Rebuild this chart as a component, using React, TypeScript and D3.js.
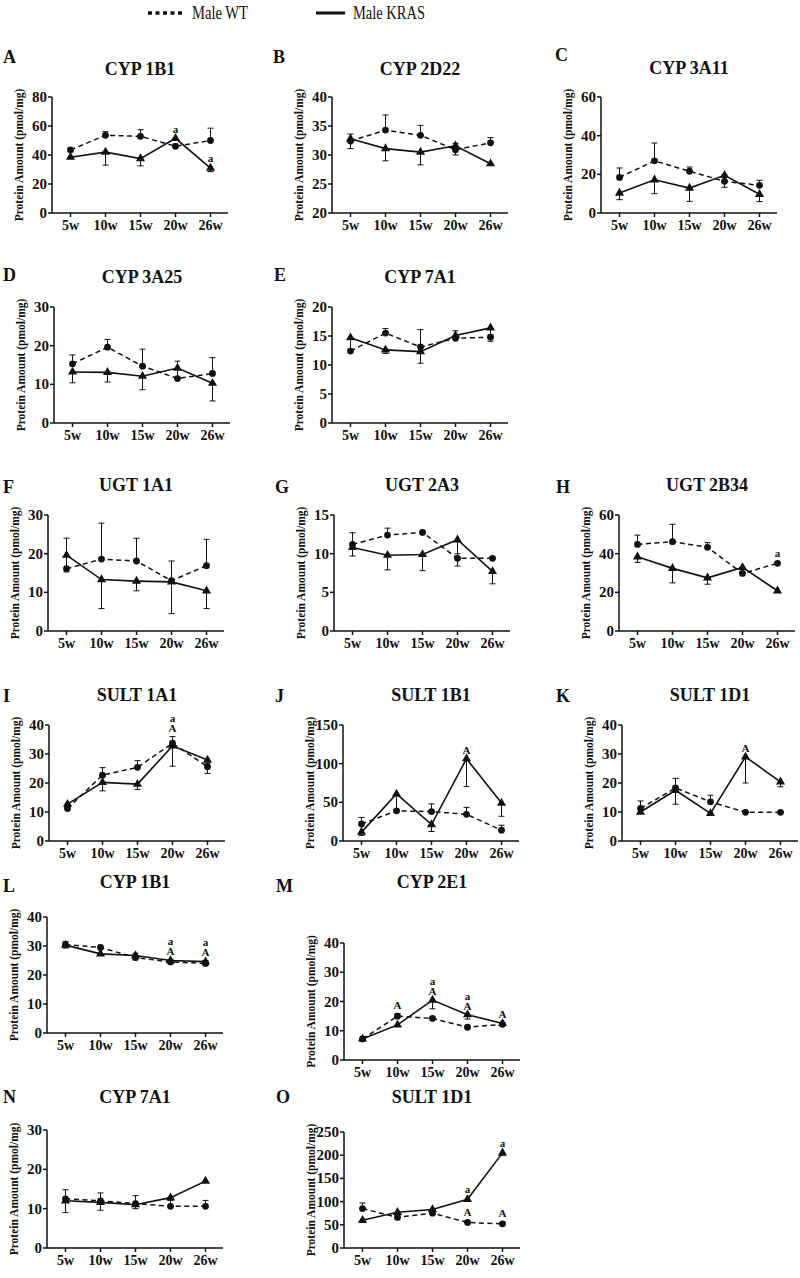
import React from "react";
import * as d3 from "d3";

// ---------- DATA ----------
const weeks = ["5w", "10w", "15w", "20w", "26w"];
const panelLetters = ["A", "B", "C", "D", "E", "F", "G", "H", "I", "J", "K", "L", "M", "N", "O"];
const panelTitles = [
  "CYP 1B1", "CYP 2D22", "CYP 3A11", "CYP 3A25", "CYP 7A1",
  "UGT 1A1", "UGT 2A3", "UGT 2B34", "SULT 1A1", "SULT 1B1",
  "SULT 1D1", "CYP 1B1", "CYP 2E1", "CYP 7A1", "SULT 1D1",
];
const yMins = [0, 20, 0, 0, 0, 0, 0, 0, 0, 0, 0, 0, 0, 0, 0];
const yMaxs = [80, 40, 60, 30, 20, 30, 15, 60, 40, 150, 40, 40, 40, 30, 250];
const ySteps = [20, 5, 20, 10, 5, 10, 5, 20, 10, 50, 10, 10, 10, 10, 50];

// Male WT (dashed, circles) — mean and SD (error bar drawn upward)
const wtMean = [
  [43.5, 53.6, 52.9, 46, 50],      // A
  [32.4, 34.3, 33.4, 30.9, 32.1],  // B
  [18.4, 27, 21.6, 16.4, 14.3],    // C
  [15.3, 19.6, 14.7, 11.5, 12.8],  // D
  [12.4, 15.5, 13.1, 14.6, 14.8],  // E
  [16.1, 18.6, 18.1, 13, 16.9],    // F
  [11.2, 12.4, 12.75, 9.4, 9.4],   // G
  [44.8, 46.2, 43.3, 29.8, 35],    // H
  [11.2, 22.7, 25.4, 33.7, 25.6],  // I
  [22, 39, 38, 34.5, 14],          // J
  [11.2, 18.3, 13.5, 9.9, 9.9],    // K
  [30.5, 29.5, 26, 24.5, 24],      // L
  [7.2, 15, 14.2, 11.2, 12.2],     // M
  [12.5, 12, 11.3, 10.6, 10.6],    // N
  [85, 66, 75, 55, 52],            // O
];
const wtSD = [
  [1, 2.5, 4.6, 1.5, 8.5],
  [1.2, 2.6, 1.7, 1.1, 0.9],
  [4.9, 9.2, 2.2, 3.4, 2.6],
  [2.3, 2, 4.4, 4.5, 4.1],
  [0.3, 0.8, 3, 1.3, 0.4],
  [7.9, 9.3, 5.9, 5.1, 6.8],
  [1.5, 0.9, 0.1, 0.6, 0.1],
  [4.8, 9, 2.4, 0.5, 0.5],
  [0.4, 2.6, 2.3, 2.3, 1.2],
  [8.5, 1, 10, 9, 6.4],
  [2.6, 3.3, 2.3, 0.3, 0.3],
  [1, 0.4, 1.5, 0.8, 1],
  [0.3, 0.8, 0.5, 0.5, 0.3],
  [2.3, 2, 2, 1.5, 1.5],
  [12, 5, 5, 3, 3],
];
// Male KRAS (solid, triangles) — mean and SD (error bar drawn downward)
const krasMean = [
  [38.5, 42, 37.5, 51.5, 31],
  [32.8, 31.1, 30.5, 31.6, 28.5],
  [10.3, 17.2, 12.9, 19.5, 9.7],
  [13.2, 13.1, 12.1, 14.2, 10.3],
  [14.7, 12.6, 12.3, 15.1, 16.4],
  [19.6, 13.3, 12.9, 12.7, 10.4],
  [10.8, 9.8, 9.9, 11.8, 7.7],
  [38.4, 32.4, 27.5, 32.9, 20.8],
  [12.7, 20.2, 19.6, 32.8, 27.9],
  [11.5, 60.8, 21.3, 106.4, 49],
  [10, 17.5, 9.5, 29, 20.4],
  [30.3, 27.3, 26.7, 25, 24.6],
  [7.2, 12, 20.5, 15.5, 12.5],
  [12, 11.6, 11, 12.8, 17],
  [60, 77, 83, 105, 205],
];
const krasSD = [
  [0.5, 9, 5, 0.5, 2.5],
  [1.7, 2.1, 2.2, 1.6, 0.1],
  [3.4, 7.2, 6.9, 6.2, 3.8],
  [2.8, 2.5, 3.5, 0.3, 4.6],
  [2.3, 0.6, 2, 0.3, 2.3],
  [4.3, 7.5, 2.5, 8.2, 4.6],
  [1.1, 1.9, 2.1, 3.4, 1.6],
  [2.9, 7.5, 3.3, 0.5, 0.8],
  [0.3, 2.9, 1.8, 7, 4.6],
  [4.3, 22.5, 9, 36, 17],
  [0.5, 4.8, 0.3, 9, 1.7],
  [1, 0.5, 1.5, 0.8, 1.2],
  [0.3, 0.5, 3, 1.5, 0.3],
  [3, 2, 1, 0.5, 0.3],
  [5, 5, 3, 3, 5],
];
// Significance letters: panel, week index, letters bottom-to-top, anchor
const annotPanels = ["A", "A", "H", "I", "J", "K", "L", "L", "M", "M", "M", "M", "O", "O", "O", "O"];
const annotWeeks = [3, 4, 4, 3, 3, 3, 3, 4, 1, 2, 3, 4, 3, 3, 4, 4];
const annotTexts = [["a"], ["a"], ["a"], ["A", "a"], ["A"], ["A"], ["A", "a"], ["A", "a"], ["A"], ["A", "a"], ["A", "a"], ["A"], ["a"], ["A"], ["a"], ["A"]];
const annotAnchors = ["T", "K", "T", "T", "T", "T", "T", "T", "T", "T", "T", "T", "K", "W", "K", "W"];

const legendLabels = ["Male WT", "Male KRAS"];

// ---------- LAYOUT ----------
type Lay = { ax: number; top: number; bottom: number; lx: number; ly: number; ty: number };
const layout: Lay[] = [
  { ax: 52, top: 97, bottom: 213, lx: 3, ly: 63, ty: 75 },
  { ax: 332, top: 97, bottom: 213, lx: 273, ly: 63, ty: 75 },
  { ax: 601, top: 97, bottom: 213, lx: 555, ly: 61, ty: 74 },
  { ax: 54, top: 307, bottom: 423, lx: 3, ly: 281, ty: 283 },
  { ax: 332, top: 307, bottom: 423, lx: 274, ly: 281, ty: 283 },
  { ax: 48, top: 515, bottom: 631, lx: 3, ly: 493, ty: 491 },
  { ax: 334, top: 515, bottom: 631, lx: 275, ly: 493, ty: 491 },
  { ax: 619, top: 515, bottom: 631, lx: 556, ly: 493, ty: 491 },
  { ax: 49, top: 725, bottom: 841, lx: 3, ly: 702, ty: 701 },
  { ax: 343, top: 725, bottom: 841, lx: 275, ly: 702, ty: 701 },
  { ax: 622, top: 725, bottom: 841, lx: 556, ly: 702, ty: 701 },
  { ax: 47, top: 917, bottom: 1033, lx: 3, ly: 892, ty: 888 },
  { ax: 344, top: 943, bottom: 1060, lx: 276, ly: 892, ty: 888 },
  { ax: 47, top: 1130, bottom: 1248, lx: 3, ly: 1103, ty: 1103 },
  { ax: 344, top: 1132, bottom: 1248, lx: 276, ly: 1103, ty: 1103 },
];

const FONT = "'Liberation Serif', 'Times New Roman', serif";
const INK = "#111";

function Panel({ i }: { i: number }) {
  const L = layout[i];
  const x0 = L.ax + 18.5;
  const xs = d3.scalePoint<string>().domain(weeks).range([x0, x0 + 140]);
  const ys = d3.scaleLinear().domain([yMins[i], yMaxs[i]]).range([L.bottom, L.top]);
  const ticks = d3.range(yMins[i], yMaxs[i] + 1e-9, ySteps[i]);
  const px = (k: number) => xs(weeks[k]) as number;
  const lineGen = d3.line<number>().x((_, k) => px(k)).y((v) => ys(v));
  const wt = wtMean[i], wsd = wtSD[i], kr = krasMean[i], ksd = krasSD[i];
  const tri = d3.symbol().type(d3.symbolTriangle).size(36)() as string;
  const xEnd = L.ax + 176;
  const cx = (L.ax + xEnd) / 2;

  const ann: JSX.Element[] = [];
  annotPanels.forEach((p, j) => {
    if (p !== panelLetters[i]) return;
    const w = annotWeeks[j];
    let base: number;
    const a = annotAnchors[j];
    if (a === "K") base = ys(kr[w]) - 6;
    else if (a === "W") base = ys(wt[w] + wsd[w]) - 5;
    else base = Math.min(ys(wt[w] + wsd[w]), ys(wt[w]), ys(kr[w])) - 5;
    annotTexts[j].forEach((t, s) => {
      ann.push(
        <text key={`an${j}-${s}`} x={px(w)} y={base - s * 10} textAnchor="middle" fontSize={11} fontWeight="bold" fontFamily={FONT} fill={INK}>{t}</text>
      );
    });
  });

  return (
    <g>
      <text x={L.lx} y={L.ly} fontSize={18} fontWeight="bold" fontFamily={FONT} fill={INK}>{panelLetters[i]}</text>
      <text x={cx} y={L.ty} textAnchor="middle" fontSize={18} fontWeight="bold" fontFamily={FONT} fill={INK}>{panelTitles[i]}</text>
      <text transform={`translate(${L.ax - 29},${(L.top + L.bottom) / 2}) rotate(-90)`} textAnchor="middle" fontSize={11.5} fontWeight="bold" fontFamily={FONT} fill={INK}>Protein Amount (pmol/mg)</text>
      {/* axes */}
      <line x1={L.ax} x2={L.ax} y1={L.top} y2={L.bottom} stroke={INK} strokeWidth={1.5} />
      <line x1={L.ax} x2={xEnd} y1={L.bottom} y2={L.bottom} stroke={INK} strokeWidth={1.5} />
      {ticks.map((t) => (
        <g key={`yt${t}`}>
          <line x1={L.ax - 4} x2={L.ax} y1={ys(t)} y2={ys(t)} stroke={INK} strokeWidth={1.5} />
          <text x={L.ax - 5} y={ys(t) + 5} textAnchor="end" fontSize={15} fontWeight="bold" fontFamily={FONT} fill={INK}>{t}</text>
        </g>
      ))}
      {weeks.map((w, k) => (
        <g key={`xt${w}`}>
          <line x1={px(k)} x2={px(k)} y1={L.bottom} y2={L.bottom + 4} stroke={INK} strokeWidth={1.5} />
          <text x={px(k)} y={L.bottom + 17} textAnchor="middle" fontSize={14} fontWeight="bold" fontFamily={FONT} fill={INK}>{w}</text>
        </g>
      ))}
      {/* lines */}
      <path d={lineGen(wt) as string} fill="none" stroke={INK} strokeWidth={1.5} strokeDasharray="5 3.5" />
      <path d={lineGen(kr) as string} fill="none" stroke={INK} strokeWidth={1.6} />
      {/* error bars */}
      {wt.map((m, k) => (
        <g key={`we${k}`}>
          <line x1={px(k)} x2={px(k)} y1={ys(m)} y2={ys(m + wsd[k])} stroke={INK} strokeWidth={1} />
          <line x1={px(k) - 3} x2={px(k) + 3} y1={ys(m + wsd[k])} y2={ys(m + wsd[k])} stroke={INK} strokeWidth={1} />
        </g>
      ))}
      {kr.map((m, k) => (
        <g key={`ke${k}`}>
          <line x1={px(k)} x2={px(k)} y1={ys(m)} y2={ys(m - ksd[k])} stroke={INK} strokeWidth={1} />
          <line x1={px(k) - 3} x2={px(k) + 3} y1={ys(m - ksd[k])} y2={ys(m - ksd[k])} stroke={INK} strokeWidth={1} />
        </g>
      ))}
      {/* markers */}
      {wt.map((m, k) => (
        <circle key={`wm${k}`} cx={px(k)} cy={ys(m)} r={3.4} fill={INK} />
      ))}
      {kr.map((m, k) => (
        <path key={`km${k}`} d={tri} transform={`translate(${px(k)},${ys(m)})`} fill={INK} />
      ))}
      {ann}
    </g>
  );
}

export default function App() {
  return (
    <svg width={800} height={1278} viewBox="0 0 800 1278" style={{ position: "absolute", left: 0, top: 0, background: "#fff" }}>
      <rect x={0} y={0} width={800} height={1278} fill="#fff" />
      {/* legend */}
      <line x1={148} x2={182} y1={13} y2={13} stroke={INK} strokeWidth={3.5} strokeDasharray="4 3.5" />
      <text x={192} y={19} fontSize={19} fontFamily={FONT} fill={INK} textLength={56} lengthAdjust="spacingAndGlyphs">{legendLabels[0]}</text>
      <line x1={316} x2={345} y1={13} y2={13} stroke={INK} strokeWidth={3} />
      <text x={353} y={19} fontSize={19} fontFamily={FONT} fill={INK} textLength={72} lengthAdjust="spacingAndGlyphs">{legendLabels[1]}</text>
      {panelLetters.map((_, i) => (
        <Panel key={i} i={i} />
      ))}
    </svg>
  );
}
